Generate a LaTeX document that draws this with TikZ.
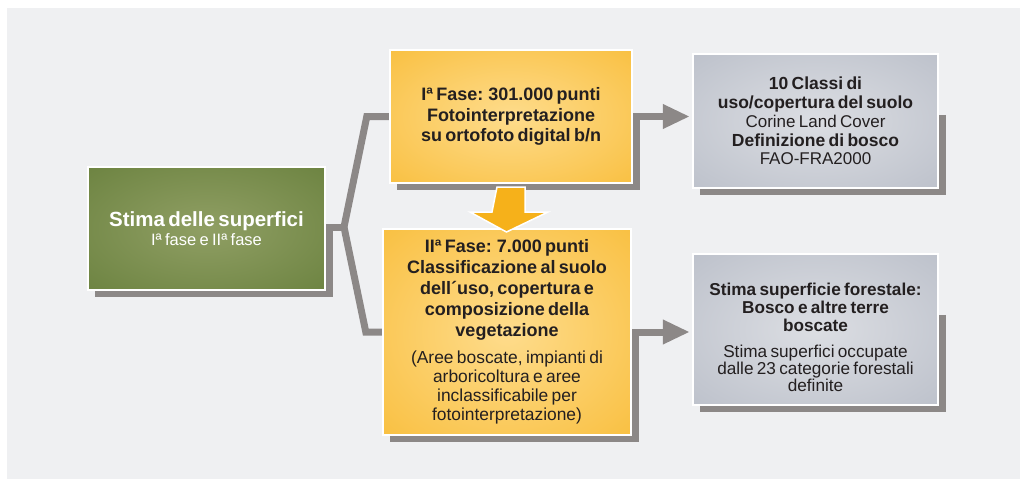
\documentclass[tikz,border=0pt]{standalone}
\usepackage{fontspec}
\setmainfont{Liberation Sans}
\usetikzlibrary{arrows.meta}
\definecolor{bgc}{HTML}{EFF0F2}
\definecolor{conc}{HTML}{8C8887}
\definecolor{gin}{HTML}{909F64}
\definecolor{gout}{HTML}{55712A}
\definecolor{yin}{HTML}{FEDC8C}
\definecolor{yout}{HTML}{F6B11A}
\definecolor{sin}{HTML}{DCDEE3}
\definecolor{sout}{HTML}{A8AEBB}
\definecolor{txt}{HTML}{231F20}
\pgfdeclareradialshading{gshade}{\pgfpoint{0bp}{0bp}}{color(0bp)=(gin); color(60bp)=(gout); color(100bp)=(gout)}
\pgfdeclareradialshading{yshade}{\pgfpoint{0bp}{0bp}}{color(0bp)=(yin); color(55bp)=(yout); color(100bp)=(yout)}
\pgfdeclareradialshading{sshade}{\pgfpoint{0bp}{0bp}}{color(0bp)=(sin); color(60bp)=(sout); color(100bp)=(sout)}
\tikzset{
  box/.style={draw=white, line width=2pt, inner sep=0pt, align=center, text=txt},
  greenbox/.style={box, shading=gshade, text=white},
  yellowbox/.style={box, shading=yshade},
  greybox/.style={box, shading=sshade},
  place/.style={inner sep=0pt},
  conn/.style={draw=conc, line width=7pt, line join=miter, line cap=butt},
  arr/.style={conn, -{Triangle[length=27pt,width=23pt]}},
  downarrow/.style={fill=yout, draw=white, line width=1.5pt, line join=miter}
}
\begin{document}
\begin{tikzpicture}[x=1pt,y=-1pt]
\useasboundingbox (0,0) rectangle (1020,479);
\fill[bgc] (7,8) rectangle (1020,479);

\coordinate (j) at (344,227);

% placeholders fixing the box frames
\node[place, minimum width=237pt, minimum height=123pt] (gp) at (206.5,228.5) {};
\node[place, minimum width=242pt, minimum height=133pt] (y1p) at (511,116.5) {};
\node[place, minimum width=248pt, minimum height=206pt] (y2p) at (507,332) {};
\node[place, minimum width=245pt, minimum height=134pt] (b1p) at (815.5,121) {};
\node[place, minimum width=245pt, minimum height=151pt] (b2p) at (815.5,329.5) {};

% shadows / connectors
\draw[conn] ([shift={(7,3.5)}]gp.south west) -- ([shift={(4.5,3.5)}]gp.south east) -- ([xshift=4.5pt]gp.east |- j) -- (j);
\draw[conn] (j) -- ([xshift=-23pt]y1p.west) -- (y1p.west);
\draw[conn] (j) -- ([xshift=-17pt]y2p.west) -- (y2p.west);
\draw[arr, shorten >=3pt] ([shift={(7,3.5)}]y1p.south west) -| ([xshift=4.5pt]y1p.east) -- (b1p.west |- y1p.east);
\draw[arr, shorten >=3pt] ([shift={(7,3.5)}]y2p.south west) -| ([xshift=4.5pt]y2p.east) -- (b2p.west |- y2p.east);
\draw[conn] ([shift={(4.5,61)}]b1p.north east) -- ([shift={(4.5,3.5)}]b1p.south east) -- ([shift={(7,3.5)}]b1p.south west);
\draw[conn] ([shift={(4.5,61)}]b2p.north east) -- ([shift={(4.5,3.5)}]b2p.south east) -- ([shift={(7,3.5)}]b2p.south west);

% boxes
\node[greenbox, minimum width=237pt, minimum height=123pt, text width=227pt] (g) at (gp) {%
{\bfseries\fontsize{20.5}{22}\selectfont Stima delle superfici\par}%
{\fontsize{16.5}{19.5}\selectfont Iª fase e IIª fase\par}};

\node[yellowbox, minimum width=242pt, minimum height=133pt, text width=232pt] (y1) at (y1p) {%
{\bfseries\fontsize{18}{20.5}\selectfont Iª Fase: 301.000 punti\\ Fotointerpretazione\\ su ortofoto digital b/n\par}};

\node[yellowbox, minimum width=248pt, minimum height=206pt, text width=238pt] (y2) at (y2p) {%
{\bfseries\fontsize{18}{21}\selectfont IIª Fase: 7.000 punti\\ Classificazione al suolo\\ dell´uso, copertura e\\ composizione della\\ vegetazione\par}%
\vspace{8pt}%
{\fontsize{17.4}{19}\selectfont (Aree boscate, impianti di\\ arboricoltura e aree\\ inclassificabile per\\ fotointerpretazione)\par}};

\node[greybox, minimum width=245pt, minimum height=134pt, text width=237pt] (b1) at (b1p) {%
{\bfseries\fontsize{17.5}{19}\selectfont 10 Classi di\\ uso/copertura del suolo\par}%
{\fontsize{17}{19}\selectfont Corine Land Cover\par}%
{\bfseries\fontsize{17.5}{19}\selectfont Definizione di bosco\par}%
{\fontsize{17}{18}\selectfont FAO-FRA2000\par}};

\node[greybox, minimum width=245pt, minimum height=151pt, text width=237pt] (b2) at (b2p) {%
{\bfseries\fontsize{17.2}{18}\selectfont \rule{0pt}{28pt}Stima superficie forestale:\\ Bosco e altre terre\\ boscate\par}%
\vspace{9pt}%
{\fontsize{17.2}{17}\selectfont Stima superfici occupate\\ dalle 23 categorie forestali\\ definite\par}};

% down block arrow between the two phases
\draw[downarrow] ([xshift=-14pt]y1p.south |- 0,187) -- ([xshift=14pt]y1p.south |- 0,187) -- ++(0,25) -- ++(23,0) -- (506.5,232) -- (470,212) -- (492,212) -- cycle;
\end{tikzpicture}
\end{document}
